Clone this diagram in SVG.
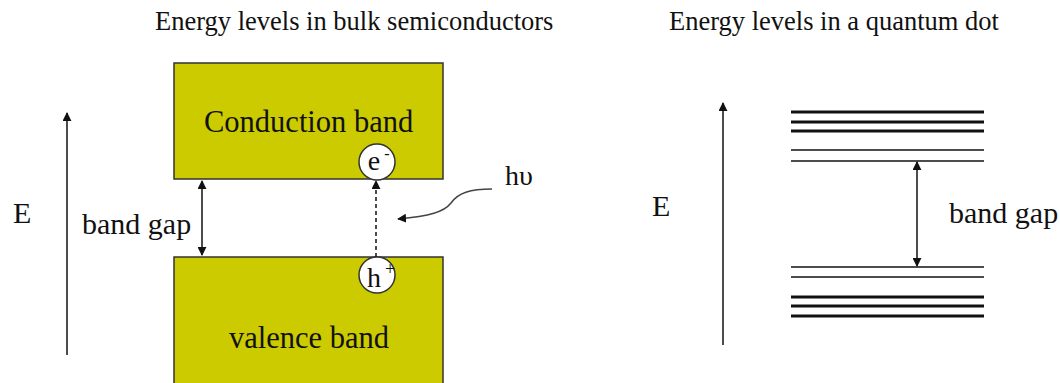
<svg xmlns="http://www.w3.org/2000/svg" width="1060" height="383" viewBox="0 0 1060 383">
<style>
text{font-family:"Liberation Serif","Times New Roman",serif;fill:#111}
.title{font-size:26.5px}
.lbl{font-size:30px}
.band{fill:#cbcb00;stroke:#333;stroke-width:1.5}
.ax{stroke:#111;stroke-width:1.5;fill:none}
.thick{stroke:#111;stroke-width:3}
.thin{stroke:#111;stroke-width:1.5}
.dot{fill:#fff;stroke:#333;stroke-width:1.5}
</style>
<defs>
<marker id="ah" viewBox="0 0 10 10" refX="9" refY="5" markerWidth="9" markerHeight="9" markerUnits="userSpaceOnUse" orient="auto-start-reverse">
<path d="M0,0 L10,5 L0,10 Z" fill="#111"/>
</marker>
</defs>
<rect width="1060" height="383" fill="#fff"/>
<g id="titles">
<text class="title" x="155" y="30">Energy levels in bulk semiconductors</text>
<text class="title" x="669" y="30">Energy levels in a quantum dot</text>
</g>
<g id="conduction-band">
<rect class="band" x="174" y="63" width="269" height="116"/>
<text class="lbl" x="204" y="132" style="font-size:30.5px">Conduction band</text>
</g>
<g id="valence-band">
<rect class="band" x="174" y="257" width="269" height="130"/>
<text class="lbl" x="229" y="348" style="font-size:30.5px">valence band</text>
</g>
<g id="electron">
<circle class="dot" cx="377" cy="162" r="18"/>
<text class="lbl" x="374" y="170" text-anchor="middle" style="font-size:28px">e</text>
<text x="387" y="159" text-anchor="middle" style="font-size:16px">-</text>
</g>
<g id="hole">
<circle class="dot" cx="377" cy="275" r="18"/>
<text class="lbl" x="374" y="287" text-anchor="middle" style="font-size:28px">h</text>
<text x="390" y="275" text-anchor="middle" style="font-size:18px">+</text>
</g>
<g id="left-labels">
<text class="lbl" x="13" y="223">E</text>
<text class="lbl" x="82" y="234">band gap</text>
<text class="lbl" x="505" y="185" style="font-size:28px">hυ</text>
</g>
<g id="qd-levels">
<line class="thick" x1="791" y1="112" x2="984" y2="112"/>
<line class="thick" x1="791" y1="122" x2="984" y2="122"/>
<line class="thick" x1="791" y1="131" x2="984" y2="131"/>
<line class="thin" x1="791" y1="150" x2="984" y2="150"/>
<line class="thin" x1="791" y1="161" x2="984" y2="161"/>
<line class="thin" x1="791" y1="267" x2="984" y2="267"/>
<line class="thin" x1="791" y1="277" x2="984" y2="277"/>
<line class="thick" x1="791" y1="297" x2="984" y2="297"/>
<line class="thick" x1="791" y1="306" x2="984" y2="306"/>
<line class="thick" x1="791" y1="316" x2="984" y2="316"/>
</g>
<g id="right-labels">
<text class="lbl" x="652" y="216">E</text>
<text class="lbl" x="949" y="223">band gap</text>
</g>
<g id="connectors">
<line class="ax" x1="67" y1="355" x2="67" y2="113" marker-end="url(#ah)"/>
<line class="ax" x1="202" y1="181" x2="202" y2="255" marker-start="url(#ah)" marker-end="url(#ah)"/>
<line class="ax" x1="376" y1="257" x2="376" y2="181" stroke-dasharray="4,3" marker-end="url(#ah)"/>
<path class="ax" d="M492,189 C470,189 458,193 451,203 C444,212 430,216 398,219" marker-end="url(#ah)" style="stroke:#444"/>
<line class="ax" x1="723" y1="345" x2="723" y2="103" marker-end="url(#ah)"/>
<line class="ax" x1="917" y1="162" x2="917" y2="266" marker-start="url(#ah)" marker-end="url(#ah)"/>
</g>
</svg>
